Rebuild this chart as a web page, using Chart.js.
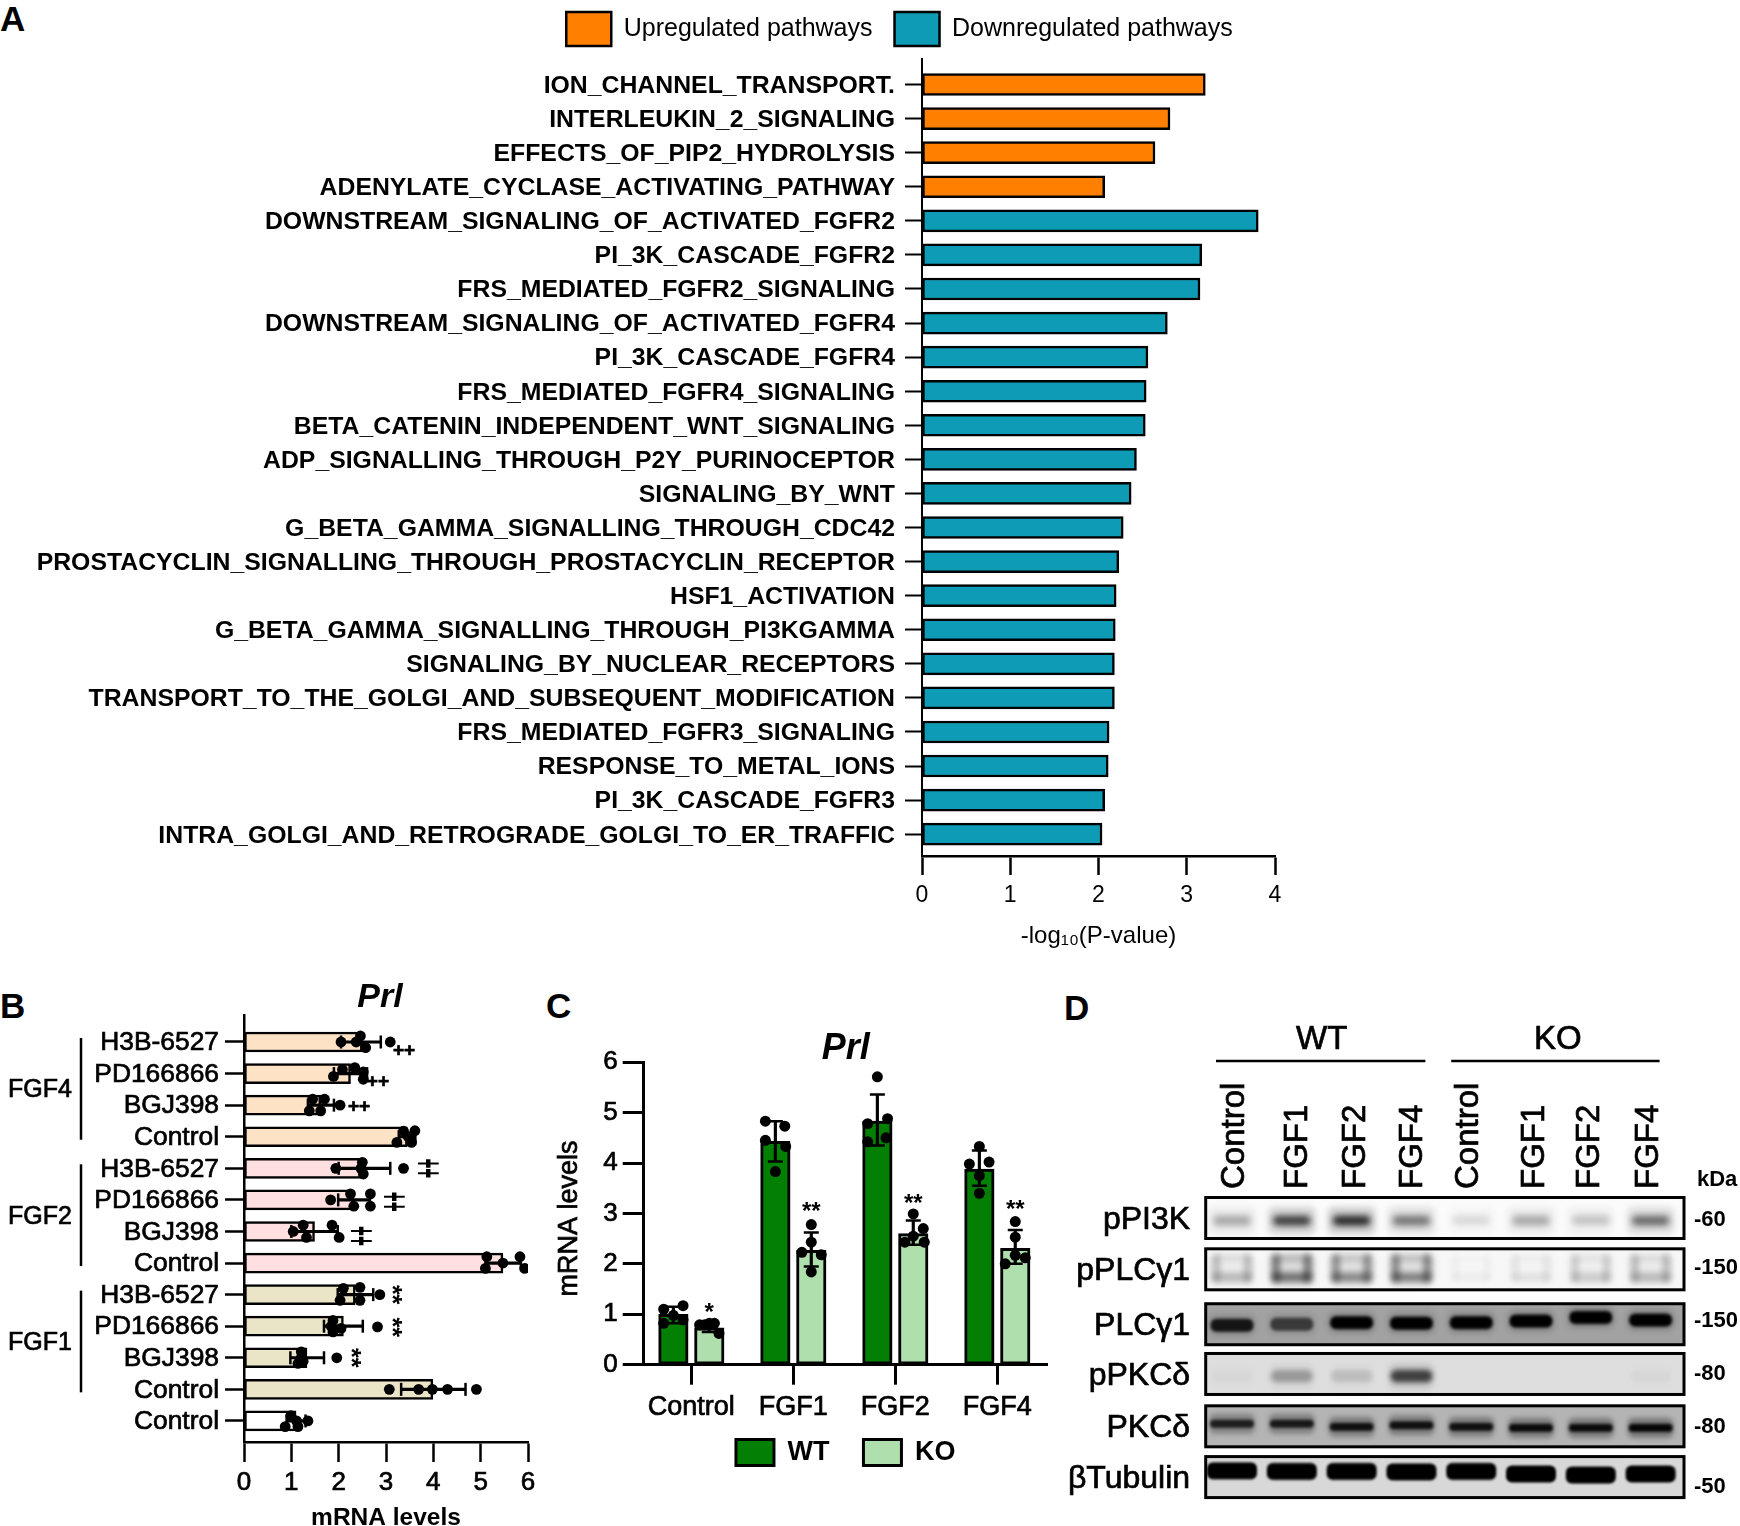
<!DOCTYPE html>
<html>
<head>
<meta charset="utf-8">
<script src="https://cdn.jsdelivr.net/npm/chart.js@4"></script>
<style>
html,body{margin:0;padding:0;background:#fff;width:1740px;height:1526px;overflow:hidden;position:relative}
canvas{position:absolute;background:transparent}
.tag{position:absolute;font:bold 35px "Liberation Sans";line-height:35px;color:#000}
</style>
</head>
<body>
<div class="tag" style="left:0;top:1px">A</div>
<div class="tag" style="left:0;top:988px">B</div>
<div class="tag" style="left:546px;top:988px">C</div>
<div class="tag" style="left:1064px;top:990px">D</div>
<canvas id="a" width="1295" height="966" style="left:0;top:-10px"></canvas>
<canvas id="b" width="548" height="574" style="left:0;top:976px"></canvas>
<canvas id="c" width="518" height="456" style="left:540px;top:1020px"></canvas>
<canvas id="d" width="700" height="560" style="left:1040px;top:1000px"></canvas>
<script>
/* ---------- Panel A ---------- */
const pathwayLabels = ["ION_CHANNEL_TRANSPORT.","INTERLEUKIN_2_SIGNALING","EFFECTS_OF_PIP2_HYDROLYSIS","ADENYLATE_CYCLASE_ACTIVATING_PATHWAY","DOWNSTREAM_SIGNALING_OF_ACTIVATED_FGFR2","PI_3K_CASCADE_FGFR2","FRS_MEDIATED_FGFR2_SIGNALING","DOWNSTREAM_SIGNALING_OF_ACTIVATED_FGFR4","PI_3K_CASCADE_FGFR4","FRS_MEDIATED_FGFR4_SIGNALING","BETA_CATENIN_INDEPENDENT_WNT_SIGNALING","ADP_SIGNALLING_THROUGH_P2Y_PURINOCEPTOR","SIGNALING_BY_WNT","G_BETA_GAMMA_SIGNALLING_THROUGH_CDC42","PROSTACYCLIN_SIGNALLING_THROUGH_PROSTACYCLIN_RECEPTOR","HSF1_ACTIVATION","G_BETA_GAMMA_SIGNALLING_THROUGH_PI3KGAMMA","SIGNALING_BY_NUCLEAR_RECEPTORS","TRANSPORT_TO_THE_GOLGI_AND_SUBSEQUENT_MODIFICATION","FRS_MEDIATED_FGFR3_SIGNALING","RESPONSE_TO_METAL_IONS","PI_3K_CASCADE_FGFR3","INTRA_GOLGI_AND_RETROGRADE_GOLGI_TO_ER_TRAFFIC"];
const upregulated = [3.21,2.81,2.64,2.07];
const downregulated = [3.81,3.17,3.15,2.78,2.56,2.54,2.53,2.43,2.37,2.28,2.23,2.20,2.19,2.18,2.18,2.12,2.11,2.07,2.04];
const pValueTicks = [0,1,2,3,4];

/* ---------- Panel B ---------- */
const bRows = ["H3B-6527","PD166866","BGJ398","Control","H3B-6527","PD166866","BGJ398","Control","H3B-6527","PD166866","BGJ398","Control","Control"];
const bMeans = [2.50,2.25,1.62,3.45,2.56,2.31,1.49,5.47,2.35,2.10,1.33,3.99,1.10];
const bLow  = [2.05,1.90,1.35,3.27,2.00,1.99,1.00,5.10,1.98,1.69,0.98,3.32,0.90];
const bHigh = [2.89,2.60,1.90,3.62,3.09,2.66,1.98,5.85,2.73,2.51,1.69,4.68,1.30];
const bDots = [[2.05,2.37,2.46,2.57,3.09],[1.89,2.08,2.34,2.52,2.52],[1.45,1.70,1.38,1.62,2.03],[3.37,3.61,3.23,3.54,3.47],[1.94,2.50,2.52,2.47,3.37],[1.83,2.25,2.32,2.67,2.67],[1.04,1.25,1.32,1.86,2.01],[5.13,5.10,5.47,5.83,5.93],[2.10,2.03,2.45,2.45,2.87],[1.88,1.88,2.05,1.84,2.82],[1.21,1.21,1.14,1.25,1.96],[3.07,3.69,3.98,4.30,4.91],[0.99,1.35,1.11,0.87,1.14]];
const bDotSpread = [[0,0,-.19,.18,0],[.09,-.13,-.19,-.05,.18],[-.19,-.19,.18,.18,0],[-.18,-.19,.18,.18,0],[0,-.19,.18,0,0],[0,-.19,.2,-.19,.2],[0,-.2,.19,-.2,.19],[-.2,.17,0,-.2,.17],[-.2,.18,-.23,.18,0],[-.18,.18,.07,0,.02],[-.19,0,.18,.11,0],[0,0,0,0,0],[-.17,0,0,.18,.18]];
const bGroups = [["FGF4",0,3],["FGF2",4,7],["FGF1",8,11]];
const bColors = ["#fde2c6","#fde2c6","#fde2c6","#fde2c6","#ffdfe0","#ffdfe0","#ffdfe0","#ffdfe0","#ebe5c8","#ebe5c8","#ebe5c8","#ebe5c8","#ffffff"];
const bMarks = [["++",0,3.38,.27,0],["++",1,2.83,.27,0],["++",2,2.43,.05,0],["++",4,3.85,0,1],["++",5,3.14,.06,1],["++",6,2.43,.14,1],["**",8,3.19,0,2],["**",9,3.19,.03,2],["**",10,2.32,0,2]];

/* ---------- Panel C ---------- */
const cCats = ["Control","FGF1","FGF2","FGF4"];
const wtMeans = [1.00,4.43,4.83,3.88];
const koMeans = [0.73,2.27,2.60,2.31];
const wtLow = [0.82,4.03,4.35,3.55], wtHigh = [1.15,4.83,5.36,4.25];
const koLow = [0.65,1.95,2.38,2.00], koHigh = [0.82,2.62,2.86,2.67];
const wtDots = [[1.10,1.17,0.82,0.89,0.98],[4.83,4.73,4.45,4.33,3.83],[5.71,4.78,4.88,4.42,4.50],[4.33,3.98,4.02,3.75,3.40]];
const koDots = [[0.79,0.82,0.82,0.62,0.79],[2.78,2.43,2.23,2.18,1.84],[2.99,2.70,2.55,2.43,2.43],[2.84,2.53,2.17,2.12,2.00]];
const wtSpread = [[-.095,.095,-.095,.095,0],[-.098,.092,-.098,.101,0],[0,-.095,.1,-.095,.085],[0,-.098,.095,0,0]];
const koSpread = [[-.095,0,.05,.095,-.045],[0,0,-.092,.098,0],[0,.098,0,-.082,.108],[0,0,0,.098,-.098]];
const cStars = ["*","**","**","**"];
const cStarLevels = [1.10,3.10,3.26,3.14];

/* ---------- Panel D ---------- */
const lanes = ["Control","FGF1","FGF2","FGF4","Control","FGF1","FGF2","FGF4"];
const blotRows = ["pPI3K","pPLC\u03B31","PLC\u03B31","pPKC\u03B4","PKC\u03B4","\u03B2Tubulin"];
const kDaMarks = ["-60","-150","-150","-80","-80","-50"];
const blotStrength = [
 [.30,.75,.85,.50,.12,.30,.20,.55],
 [.35,.80,.65,.70,.06,.12,.25,.35],
 [.85,.60,1,1,1,1,1,1],
 [.03,.30,.14,.75,0,0,0,.03],
 [.78,.82,.88,.88,.88,.92,.92,.96],
 [1,1,1,1,1,1,1,1]];
const blotShift = [
 [.05,.05,.05,.05,.04,.05,.04,.05],
 [0,0,0,0,0,0,0,0],
 [.02,0,-.03,-.02,-.03,-.06,-.13,-.08],
 [.04,.04,.04,.04,.04,.04,.04,.04],
 [-.05,-.05,.01,-.02,.01,.03,.03,.03],
 [-.12,-.11,-.11,-.1,-.11,-.06,-.04,-.06]];

/* ---------- shared ---------- */
const F = '"Liberation Sans"';
Chart.defaults.font.family = F;
Chart.defaults.color = "#000";
Chart.defaults.animation = false;
Chart.defaults.plugins.tooltip.enabled = false;
Chart.defaults.plugins.legend.display = false;
const base = {responsive:false,devicePixelRatio:1,events:[]};
const setTicks = vals => s => { s.ticks = vals.map(v => ({value:v})); };
const ink = (w,len) => ({border:{display:true,color:"#000",width:w},
  grid:{display:true,offset:false,drawOnChartArea:false,drawTicks:true,tickLength:len,tickWidth:w,tickColor:"#000"}});
const range = n => Array.from({length:n},(_,i)=>i);
const heavy = {textStrokeColor:"#000",textStrokeWidth:.7};
const labelRoom = {id:"labelRoom",afterLayout(ch){ch.scales.y.left=0;if(ch.canvas.id==="c")ch.scales.x.bottom=ch.height;}};
const say = (c,t,x,y) => {c.lineWidth=.7;c.strokeText(t,x,y);c.fillText(t,x,y);};

/* ---------- Chart A ---------- */
const aRows = range(pathwayLabels.length);
new Chart(document.getElementById("a"),{
  type:"bar",
  data:{datasets:[
    {label:"Upregulated pathways",indexAxis:"y",grouped:false,barThickness:22,borderSkipped:false,borderWidth:2.5,borderColor:"#000",backgroundColor:"#ff8000",
     data:upregulated.map((v,i)=>({x:v,y:i}))},
    {label:"Downregulated pathways",indexAxis:"y",grouped:false,barThickness:22,borderSkipped:false,borderWidth:2.5,borderColor:"#000",backgroundColor:"#0e9bb5",
     data:downregulated.map((v,i)=>({x:v,y:i+upregulated.length}))}
  ]},
  options:{...base,
    layout:{padding:{left:524,right:20,top:0,bottom:0}},
    plugins:{
      title:{display:true,text:" ",font:{size:2.5,lineHeight:1},padding:0,weight:500},
      legend:{display:true,position:"top",labels:{boxWidth:45,boxHeight:34,padding:22,font:{size:25},color:"#000"}}
    },
    scales:{
      x:{type:"linear",min:0,max:4,offset:false,...ink(2.5,19),
        afterBuildTicks:setTicks(pValueTicks),
        ticks:{font:{size:23},padding:7,maxRotation:0,autoSkip:false},
        title:{display:true,text:"-log\u2081\u2080(P-value)",font:{size:24},padding:{top:0,bottom:5}},
        afterFit:s=>{s.height=100;}},
      y:{type:"linear",reverse:true,min:-0.764,max:22.64,offset:false,...ink(2,17),
        afterBuildTicks:setTicks(aRows),
        ticks:{font:{size:24.8,weight:"bold"},padding:10,labelOffset:1.5,autoSkip:false,callback:v=>pathwayLabels[v]},
        afterFit:s=>{s.width=398;}}
    }
  },
  plugins:[labelRoom]
});

/* ---------- Chart B ---------- */
const bPlugin = {id:"bNotes",afterDraw(ch){
  const c=ch.ctx,x=ch.scales.x,y=ch.scales.y;
  c.save();c.fillStyle="#000";c.strokeStyle="#000";
  bGroups.forEach(([t,a,b])=>{
    c.lineWidth=2.5;c.beginPath();c.moveTo(81,y.getPixelForValue(a)-4);c.lineTo(81,y.getPixelForValue(b)+3);c.stroke();
    c.font='25px '+F;c.textAlign="center";c.textBaseline="middle";
    say(c,t,40,y.getPixelForValue((a+b)/2)+1);
  });
  bMarks.forEach(([t,row,v,dy,kind])=>{
    c.save();c.translate(x.getPixelForValue(v),y.getPixelForValue(row+dy));
    c.textAlign="center";c.textBaseline="middle";
    if(kind===0){c.font='bold 19px '+F;say(c,t,0,0);}
    if(kind===1){c.rotate(Math.PI/2);c.scale(1,2.4);c.font='bold 17px '+F;c.fillText(t,0,0);}
    if(kind===2){c.rotate(Math.PI/2);c.font='bold 25px '+F;c.fillText(t,0,4);}
    c.restore();
  });
  c.restore();
}};
new Chart(document.getElementById("b"),{
  type:"bar",
  data:{datasets:[
    {type:"scatter",order:0,pointRadius:5.4,backgroundColor:"#000",borderWidth:0,
     data:bDots.flatMap((r,i)=>r.map((v,j)=>({x:v,y:i+bDotSpread[i][j]})))},
    {type:"scatter",order:1,pointStyle:"line",rotation:90,pointRadius:6.5,pointBorderWidth:2.5,pointBorderColor:"#000",
     data:bLow.map((v,i)=>({x:v,y:i})).concat(bHigh.map((v,i)=>({x:v,y:i})))},
    {order:2,indexAxis:"y",grouped:false,barThickness:2.5,backgroundColor:"#000",borderWidth:0,
     data:bLow.map((v,i)=>({x:[v,bHigh[i]],y:i}))},
    {order:3,indexAxis:"y",grouped:false,barThickness:20,borderSkipped:false,borderWidth:2.5,borderColor:"#000",backgroundColor:bColors,
     data:bMeans.map((v,i)=>({x:v,y:i}))}
  ]},
  options:{...base,
    layout:{padding:{left:232,right:20,top:0,bottom:0}},
    plugins:{title:{display:true,text:"Prl",font:{size:34,weight:"bold",style:"italic",lineHeight:.8},padding:{top:8,bottom:3.8}}},
    scales:{
      x:{type:"linear",min:0,max:6,offset:false,...ink(2.5,20),
        afterBuildTicks:setTicks([0,1,2,3,4,5,6]),
        ticks:{font:{size:26},...heavy,padding:5,maxRotation:0,autoSkip:false},
        title:{display:true,text:"mRNA levels",font:{size:24.5,weight:"bold"},padding:{top:0,bottom:17}},
        afterFit:s=>{s.height=108;}},
      y:{type:"linear",reverse:true,min:-0.855,max:12.667,offset:false,...ink(2.5,19),
        afterBuildTicks:setTicks(range(bRows.length)),
        ticks:{font:{size:26.4},...heavy,padding:6,labelOffset:1,autoSkip:false,callback:v=>bRows[v]},
        afterFit:s=>{s.width=12;}}
    }
  },
  plugins:[bPlugin,labelRoom]
});

/* ---------- Chart C ---------- */
const side = .176;
const cPlugin = {id:"cStars",afterDraw(ch){
  const c=ch.ctx,x=ch.scales.x,y=ch.scales.y;
  c.save();c.fillStyle="#000";c.strokeStyle="#000";c.font='bold 24px '+F;c.textAlign="center";c.textBaseline="middle";
  cStars.forEach((t,i)=>c.fillText(t,x.getPixelForValue(i+side),y.getPixelForValue(cStarLevels[i])+4));
  c.translate(30,y.getPixelForValue(2.9));c.rotate(-Math.PI/2);c.font='27px '+F;
  say(c,"mRNA levels",0,0);
  c.restore();
}};
const barStyle = {indexAxis:"x",grouped:false,barThickness:29.5,borderSkipped:false,borderWidth:3,borderColor:"#000"};
new Chart(document.getElementById("c"),{
  type:"bar",
  data:{datasets:[
    {label:"WT",...barStyle,order:3,backgroundColor:"#037f03",data:wtMeans.map((v,i)=>({x:i-side,y:v}))},
    {label:"KO",...barStyle,order:3,backgroundColor:"#afdfad",data:koMeans.map((v,i)=>({x:i+side,y:v}))},
    {label:"whiskers",order:2,indexAxis:"x",grouped:false,barThickness:2.5,backgroundColor:"#000",borderWidth:0,
     data:wtLow.map((v,i)=>({x:i-side,y:[v,wtHigh[i]]})).concat(koLow.map((v,i)=>({x:i+side,y:[v,koHigh[i]]})))},
    {label:"caps",type:"scatter",order:1,pointStyle:"line",pointRadius:7.5,pointBorderWidth:2.5,pointBorderColor:"#000",
     data:cCats.flatMap((_,i)=>[{x:i-side,y:wtLow[i]},{x:i-side,y:wtHigh[i]},{x:i+side,y:koLow[i]},{x:i+side,y:koHigh[i]}])},
    {label:"dots",type:"scatter",order:0,pointRadius:5.5,backgroundColor:"#000",borderWidth:0,
     data:wtDots.flatMap((r,i)=>r.map((v,j)=>({x:i-side+wtSpread[i][j],y:v}))).concat(koDots.flatMap((r,i)=>r.map((v,j)=>({x:i+side+koSpread[i][j],y:v}))))}
  ]},
  options:{...base,
    layout:{padding:{left:103.7,right:10.3,top:9.8,bottom:0}},
    plugins:{
      title:{display:true,text:"Prl",font:{size:36,weight:"bold",style:"italic",lineHeight:.75},padding:{top:5.4,bottom:0}},
      legend:{display:true,position:"bottom",labels:{boxWidth:38,boxHeight:26,padding:34,font:{size:27,weight:"bold"},filter:it=>it.text==="WT"||it.text==="KO"}}
    },
    scales:{
      x:{type:"linear",min:-0.467,max:3.494,offset:false,...ink(3,20),
        afterBuildTicks:setTicks([0,1,2,3]),
        ticks:{font:{size:27},...heavy,padding:7,maxRotation:0,autoSkip:false,callback:v=>cCats[v]},
        afterFit:s=>{s.height=40.3;}},
      y:{type:"linear",min:0,max:6,offset:false,...ink(3,21),
        afterBuildTicks:setTicks([0,1,2,3,4,5,6]),
        ticks:{font:{size:26},...heavy,padding:5,autoSkip:false},
        afterFit:s=>{s.width=0;}}
    }
  },
  plugins:[cPlugin,labelRoom]
});

/* ---------- Chart D ---------- */
const rowSits = [0,.99,2.05,3.01,4.02,5.0];
const rowPaper = ["#fbfbfb","#f7f7f7","#a2a2a2","#dedede","#b4b4b4","#d8d8d8"];
function sprite(row,s){
  const cv=document.createElement("canvas");cv.width=70;cv.height=50;
  const c=cv.getContext("2d");const cx=35,cy=25;
  const blob=(w,h,a,blur,dx=0,dy=0)=>{c.filter=`blur(${blur}px)`;c.fillStyle=`rgba(0,0,0,${a})`;
    c.beginPath();c.roundRect(cx-w/2+dx,cy-h/2+dy,w,h,Math.min(h/2,6));c.fill();};
  if(row===0){blob(48,28,.2*s,3);blob(38,10,s*.95,3);}
  if(row===1){blob(44,34,.14*s,4);blob(8,28,s*.6,3,-16,-1);blob(8,28,s*.6,3,16,-1);blob(40,9,s*.65,3,0,8);blob(38,6,s*.25,3,0,-11);}
  if(row===2){blob(43,13,s,1.6);blob(46,20,.2*s,3);}
  if(row===3){blob(44,24,.2*s,3.5);blob(42,12,s*.9,2.5);}
  if(row===4){blob(46,20,.35*s,2.5);blob(44,8,s,1.6);}
  if(row===5){blob(50,17,s,1);}
  return cv;
}
const sprites = blotStrength.map((r,i)=>r.map(s=>sprite(i,s)));
const dPlugin = {id:"blot",
  beforeDatasetsDraw(ch){
    const c=ch.ctx,x=ch.scales.x,y=ch.scales.y;
    const l=x.getPixelForValue(-.5)+3.6,r=x.getPixelForValue(7.5)+3.5;
    rowSits.forEach((v,i)=>{c.fillStyle=rowPaper[i];c.fillRect(l,y.getPixelForValue(v)-20.5,r-l,41);});
  },
  afterDraw(ch){
    const c=ch.ctx,x=ch.scales.x,y=ch.scales.y;
    const l=x.getPixelForValue(-.5)+3.6,r=x.getPixelForValue(7.5)+3.5;
    const org=ch.canvas.getBoundingClientRect();
    c.save();c.strokeStyle="#000";c.fillStyle="#000";c.lineWidth=3;
    rowSits.forEach(v=>c.strokeRect(l,y.getPixelForValue(v)-20.5,r-l,41));
    // lane headers
    const laneNudge=[3,6,4,2,-2,4,-1,-2];
    c.font='33px '+F;c.textBaseline="middle";
    lanes.forEach((t,i)=>{c.save();c.translate(x.getPixelForValue(i)+laneNudge[i],1189-org.top);c.rotate(-Math.PI/2);c.textAlign="left";say(c,t,0,0);c.restore();});
    // WT / KO
    c.font='33px '+F;c.textAlign="center";
    say(c,"WT",(x.getPixelForValue(0)+x.getPixelForValue(3))/2,1040-org.top);
    say(c,"KO",(x.getPixelForValue(4)+x.getPixelForValue(7))/2-3,1040-org.top);
    c.lineWidth=2.5;
    [[0,3,-16,14],[4,7,-20,9]].forEach(([a,b,m,n])=>{c.beginPath();c.moveTo(x.getPixelForValue(a)+m,1061-org.top);c.lineTo(x.getPixelForValue(b)+n,1061-org.top);c.stroke();});
    // kDa column
    c.font='bold 22px '+F;c.textAlign="left";
    c.fillText("kDa",1697-org.left,1180-org.top);
    const nudge=[2,-1,-3,0,1,10];
    kDaMarks.forEach((t,i)=>c.fillText(t,1694-org.left,y.getPixelForValue(rowSits[i])+nudge[i]));
    c.restore();
  }
};
new Chart(document.getElementById("d"),{
  type:"scatter",
  data:{datasets:blotStrength.map((r,i)=>({
    clip:false,pointRadius:20,borderWidth:0,backgroundColor:"rgba(0,0,0,0)",
    pointStyle:ctx=>sprites[i][ctx.dataIndex],
    data:r.map((s,j)=>({x:j,y:rowSits[i]+blotShift[i][j]}))
  }))},
  options:{...base,
    layout:{padding:{left:0,right:59.5,top:192.1,bottom:57}},
    scales:{
      x:{type:"linear",min:-.5,max:7.5,display:false,offset:false},
      y:{type:"linear",reverse:true,min:-.5,max:5.5,offset:false,
        border:{display:false},grid:{display:false,drawTicks:false},
        afterBuildTicks:setTicks(rowSits),
        ticks:{font:{size:32},...heavy,padding:12,labelOffset:2,autoSkip:false,callback:v=>blotRows[rowSits.indexOf(v)]},
        afterFit:s=>{s.width=162.1;}}
    }
  },
  plugins:[dPlugin]
});
</script>
</body>
</html>
